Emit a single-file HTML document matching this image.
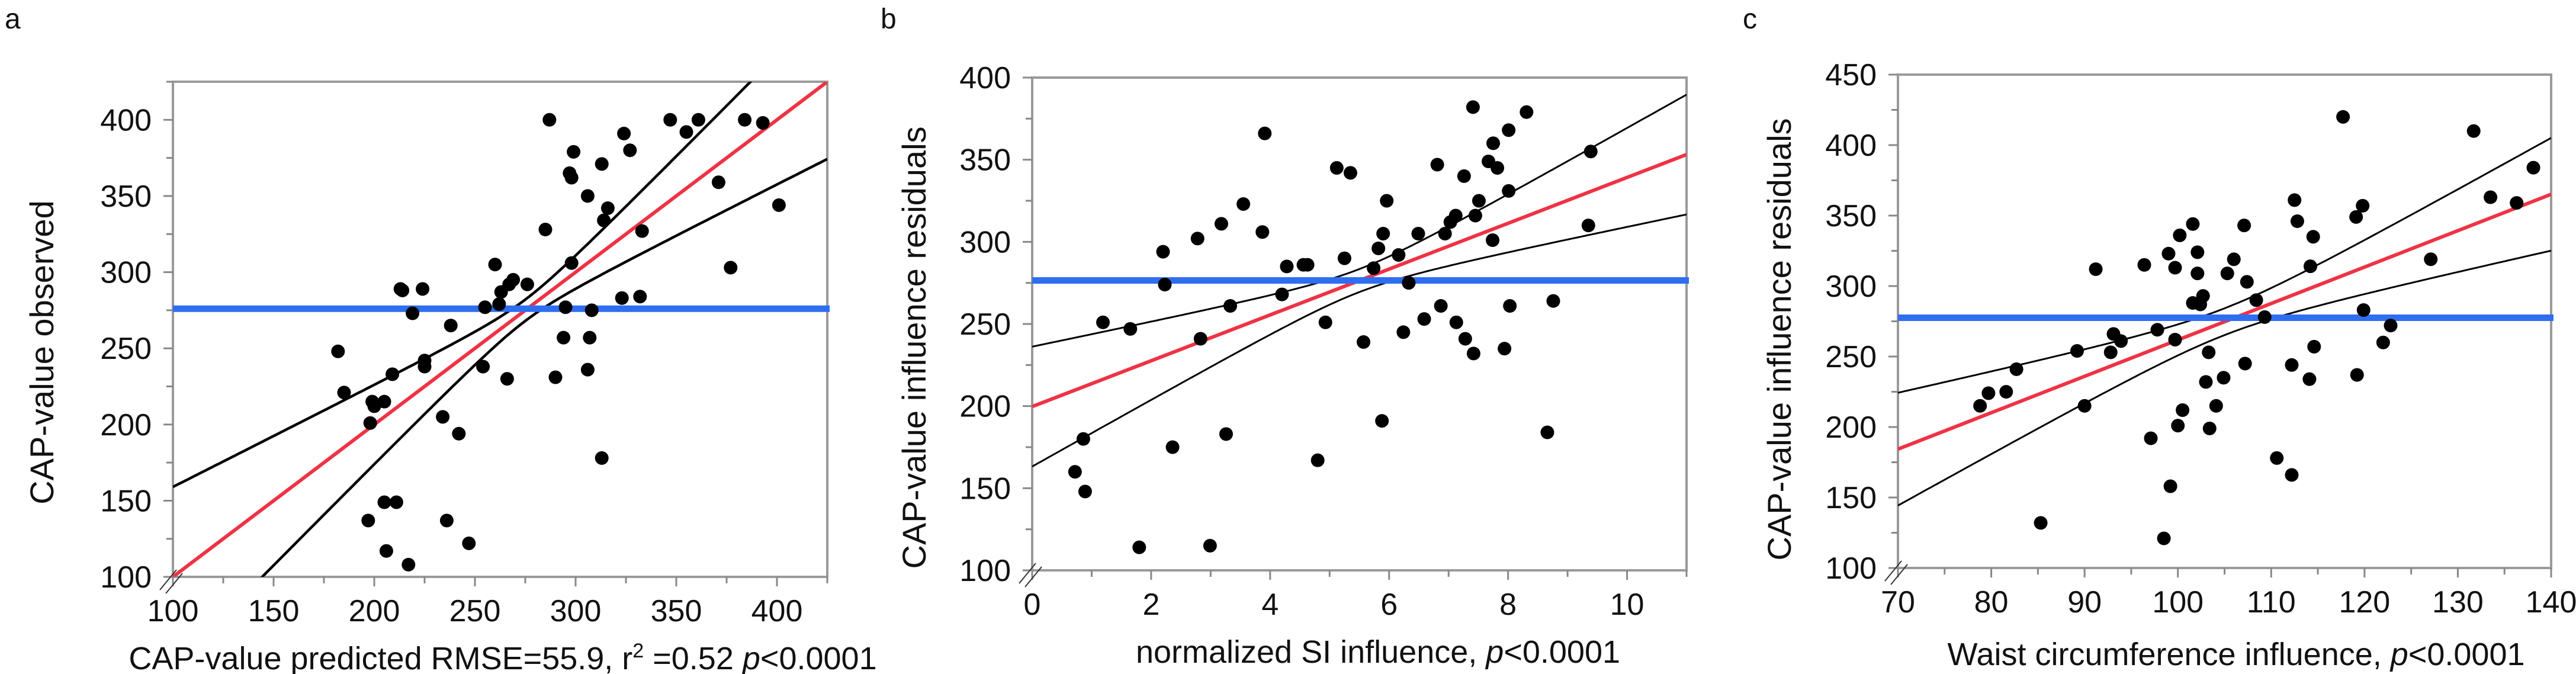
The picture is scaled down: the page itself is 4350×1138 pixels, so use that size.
<!DOCTYPE html>
<html><head><meta charset="utf-8"><style>
html,body{margin:0;padding:0;background:#fff;}
svg{display:block;font-family:"Liberation Sans",sans-serif;}
</style></head><body>
<svg id="fig" width="4350" height="1138" viewBox="0 0 4350 1138"></svg>
<script>
// Panel a data
const aX=[287,347,355,361,384,393,324,327,299,313,297,298,306,316,314,371,401,285,333,260,298,377,276,269,263,267,262,255,224,213,214,219,295,308,323,332,238,294,307,225,225,182,254,209,306,266,290,185,199,205,200,198,234,242,313,205,211,197,236,247,206,217];
const aY=[400,400,392,400,400,398,391,380,379,371,365,362,350,342,334,359,344,328,327,305,306,303,292,295,287,292,279,277,289,289,288,273,277,275,283,284,265,257,257,242,238,248,238,233,236,230,231,221,215,215,212,201,205,194,178,149,149,137,137,122,117,108];
const aFit=[0,1];      // intercept, slope
const aBand=[275,7,0.335]; // center x, min half-width, growth
const aMean=[276];
// Panel b data
const bX=[7.41,8.31,3.91,8.01,7.75,9.39,5.12,5.35,6.81,7.67,7.82,7.26,8.01,5.96,7.51,3.55,3.18,9.35,7.12,7.45,7.03,2.78,3.87,5.90,6.49,6.94,7.74,2.20,5.82,6.16,5.25,4.28,4.56,4.63,5.74,2.23,6.33,4.20,3.33,6.87,8.03,8.76,1.19,1.65,4.93,6.59,7.13,6.24,2.83,5.57,7.28,7.42,7.94,5.88,8.66,3.26,2.36,0.86,4.80,0.72,0.89,1.80,2.99];
const bY=[382,379,366,368,360,355,345,342,347,349,345,340,331,325,325,323,311,310,316,316,312,302,306,305,305,305,301,294,296,292,290,285,286,286,284,274,275,268,261,261,261,264,251,247,251,253,251,245,241,239,241,232,235,191,184,183,175,180,167,160,148,114,115];
const bFit=[199.7,13.95];
const bBand=[5.5,7,6.51];
const bMean=[276.5];
// Panel c data
const cX=[117.7,131.7,138.1,133.5,136.3,112.5,112.8,119.8,119.1,101.6,107.1,100.2,114.5,99,102.1,96.4,91.2,99.7,106,102.1,105.3,114.2,127.1,107.4,102.7,101.6,102.4,108.4,109.3,119.9,122.8,93.1,93.9,97.8,99.7,89.2,92.8,82.7,103.3,122,114.6,107.2,112.2,104.9,103,114.1,119.2,79.7,81.6,78.8,90,104.1,100.5,100,103.4,97.1,110.6,112.2,99.2,85.3,98.5];
const cY=[420,410,384,363,359,361,346,357,349,344,343,336,335,323,324,315,312,313,319,309,309,314,319,303,293,288,287,290,278,283,272,266,261,269,262,254,253,241,253,260,257,245,244,235,232,234,237,224,225,215,215,215,212,201,199,192,178,166,158,132,121];
const cFit=[3.5,2.583];
const cBand=[105,9.5,1.11];
const cMean=[277.5];

const NS="http://www.w3.org/2000/svg";
const svg=document.getElementById('fig');
function el(tag,attrs,parent){const e=document.createElementNS(NS,tag);for(const k in attrs)e.setAttribute(k,attrs[k]);(parent||svg).appendChild(e);return e;}

function panel(cfg){
  const g=el('g',{});
  
  
  const sx=v=>cfg.L+(v-cfg.x0)/(cfg.x1-cfg.x0)*(cfg.R-cfg.L);
  const sy=v=>cfg.B-(v-cfg.y0)/(cfg.y1-cfg.y0)*(cfg.B-cfg.T);
  const lt=el('text',{x:cfg.lx,y:cfg.ly,'font-size':48,fill:'#111'},g);lt.textContent=cfg.id;
  
  const fr=el('rect',{x:cfg.L,y:cfg.T,width:cfg.R-cfg.L,height:cfg.B-cfg.T,fill:'none',stroke:'#9a9a9a','stroke-width':4},g);
  
  const xa=el('g',{},g);
  for(let v=cfg.x0;v<=cfg.x1+1e-9;v+=cfg.xm){
    const maj=Math.abs(((v-cfg.xs)/cfg.xt)-Math.round((v-cfg.xs)/cfg.xt))<1e-6;
    el('line',{x1:sx(v),x2:sx(v),y1:cfg.B,y2:cfg.B+(maj?16:11),stroke:'#888','stroke-width':3},xa);
    if(maj&&v>=cfg.xs-1e-9){const t=el('text',{x:sx(v),y:cfg.B+75,'font-size':52,'text-anchor':'middle',fill:'#111'},xa);t.textContent=Math.round(v);
      }
  }
  const ya=el('g',{},g);
  for(let v=cfg.y0;v<=cfg.y1+1e-9;v+=cfg.ym){
    const maj=Math.abs(((v-cfg.y0)/cfg.yt)-Math.round((v-cfg.y0)/cfg.yt))<1e-6;
    el('line',{x1:cfg.L,x2:cfg.L-(maj?16:11),y1:sy(v),y2:sy(v),stroke:'#888','stroke-width':3},ya);
    if(maj){const t=el('text',{x:cfg.L-36,y:sy(v)+18,'font-size':52,'text-anchor':'end',fill:'#111'},ya);t.textContent=Math.round(v);
      }
  }
  el('path',{d:`M${cfg.L-22} ${cfg.B+22} L${cfg.L+6} ${cfg.B-12} M${cfg.L-12} ${cfg.B+28} L${cfg.L+16} ${cfg.B-6}`,stroke:'#333','stroke-width':2,fill:'none'},g);
  const xt=el('text',{x:cfg.xtx,y:cfg.xty,'font-size':54,'text-anchor':'middle',fill:'#111'},g);
  xt.innerHTML=cfg.xtitle;
  const yt=el('text',{x:0,y:0,'font-size':56,'text-anchor':'middle',fill:'#111',transform:`translate(${cfg.ytx},${cfg.yty}) rotate(-90)`},g);
  yt.textContent=cfg.ytitle;
  const clip=el('clipPath',{id:'clip'+cfg.id},g);
  el('rect',{x:cfg.L,y:cfg.T,width:cfg.R-cfg.L,height:cfg.B-cfg.T},clip);
  const pg=el('g',{'clip-path':`url(#clip${cfg.id})`},g);
  const ml=el('line',{x1:cfg.L,x2:cfg.R+4,y1:sy(cfg.mean[0]),y2:sy(cfg.mean[0]),stroke:'#2f6ef0','stroke-width':11},g);
  
  for(let i=0;i<cfg.xs_.length;i++){
    const c=el('circle',{cx:sx(cfg.xs_[i]),cy:sy(cfg.ys_[i]),r:11.5,fill:'#000'},g);
    
  }
  const f=x=>cfg.fit[0]+cfg.fit[1]*x;
  const h=x=>Math.sqrt(cfg.band[1]**2+(cfg.band[2]*(x-cfg.band[0]))**2);
  let up='',lo='';
  for(let k=0;k<=200;k++){const x=cfg.x0+(cfg.x1-cfg.x0)*k/200;
    up+=(k?'L':'M')+sx(x).toFixed(1)+' '+sy(f(x)+h(x)).toFixed(1);
    lo+=(k?'L':'M')+sx(x).toFixed(1)+' '+sy(f(x)-h(x)).toFixed(1);}
  const u=el('path',{d:up,stroke:'#000','stroke-width':cfg.bw,fill:'none'},pg);
  
  const l=el('path',{d:lo,stroke:'#000','stroke-width':cfg.bw,fill:'none'},pg);
  
  const r=el('line',{x1:sx(cfg.x0),y1:sy(f(cfg.x0)),x2:sx(cfg.x1),y2:sy(f(cfg.x1)),stroke:'#ee3345','stroke-width':6},pg);
  
}

panel({id:'a',L:292,R:1397,T:138,B:974,x0:100,x1:425,xs:100,xt:50,xm:25,y0:100,y1:425,yt:50,ym:25,
  xs_:aX,ys_:aY,fit:aFit,band:aBand,mean:aMean,bw:4.5,lx:8,ly:48,
  xtitle:'CAP-value predicted RMSE=55.9, r<tspan font-size="34" dy="-20">2</tspan><tspan dy="20"> =0.52 </tspan><tspan font-style="italic">p</tspan>&lt;0.0001',
  xtx:849,xty:1130,ytitle:'CAP-value observed',ytx:90,yty:595});
panel({id:'b',L:1743,R:2848,T:131,B:963,x0:0,x1:11,xs:0,xt:2,xm:1,y0:100,y1:400,yt:50,ym:25,
  xs_:bX,ys_:bY,fit:bFit,band:bBand,mean:bMean,bw:3,lx:1487,ly:48,
  xtitle:'normalized SI influence, <tspan font-style="italic">p</tspan>&lt;0.0001',
  xtx:2327,xty:1119,ytitle:'CAP-value influence residuals',ytx:1563,yty:587});
panel({id:'c',L:3205,R:4308,T:126,B:959,x0:70,x1:140,xs:70,xt:10,xm:5,y0:100,y1:450,yt:50,ym:25,
  xs_:cX,ys_:cY,fit:cFit,band:cBand,mean:cMean,bw:3,lx:2943,ly:48,
  xtitle:'Waist circumference influence, <tspan font-style="italic">p</tspan>&lt;0.0001',
  xtx:3776,xty:1123,ytitle:'CAP-value influence residuals',ytx:3024,yty:573});
</script>
</body></html>
